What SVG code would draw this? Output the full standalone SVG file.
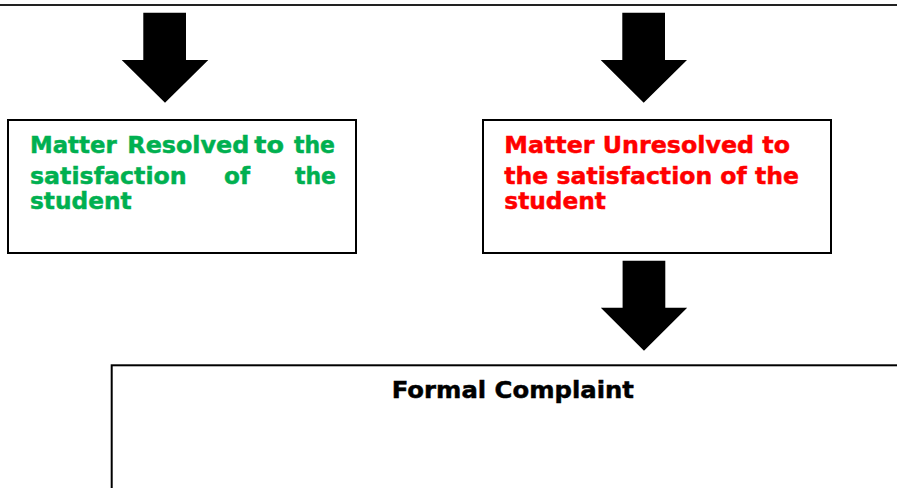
<svg xmlns="http://www.w3.org/2000/svg" width="897" height="488" viewBox="0 0 897 488">
<style>
.box{fill:#fff;stroke:#000;stroke-width:2}
.t{font-family:"DejaVu Sans","Verdana",sans-serif;font-weight:bold;font-size:22.5px;stroke-width:0.45}
.g{fill:#00B050;stroke:#00B050}
.r{fill:#FF0000;stroke:#FF0000}
.k{fill:#000;stroke:#000}
.arrow{fill:#000}
</style>
<rect width="897" height="488" fill="#fff"/>
<line x1="0" y1="5" x2="897" y2="5" stroke="#222" stroke-width="2.2"/>
<g id="connectors">
<polygon class="arrow" points="143.3,12.7 186,12.7 186,60 208.3,60 165,102.7 121.7,60 143.3,60"/>
<polygon class="arrow" points="622.3,12.7 665,12.7 665,60 687,60 643.7,102.7 600.7,60 622.3,60"/>
<polygon class="arrow" points="622.6,260.7 665.3,260.7 665.3,307.7 687.2,307.7 644,350.7 600.8,307.7 622.6,307.7"/>
</g>
<g id="resolved">
<rect class="box" x="8" y="120" width="348" height="133"/>
<g class="t g">
<text x="30" y="153" textLength="86.7" lengthAdjust="spacingAndGlyphs">Matter</text>
<text x="127.3" y="153" textLength="122" lengthAdjust="spacingAndGlyphs">Resolved</text>
<text x="254.3" y="153" textLength="29.7" lengthAdjust="spacingAndGlyphs">to</text>
<text x="294" y="153" textLength="41" lengthAdjust="spacingAndGlyphs">the</text>
<text x="30" y="183.5" textLength="156.7" lengthAdjust="spacingAndGlyphs">satisfaction</text>
<text x="224" y="183.5" textLength="26" lengthAdjust="spacingAndGlyphs">of</text>
<text x="295" y="183.5" textLength="41" lengthAdjust="spacingAndGlyphs">the</text>
<text x="30" y="208.5" textLength="101.7" lengthAdjust="spacingAndGlyphs">student</text>
</g>
</g>
<g id="unresolved">
<rect class="box" x="483" y="120" width="348" height="133"/>
<g class="t r">
<text x="504.3" y="153" textLength="285.7" lengthAdjust="spacingAndGlyphs">Matter Unresolved to</text>
<text x="504.3" y="184" textLength="294.7" lengthAdjust="spacingAndGlyphs">the satisfaction of the</text>
<text x="504.3" y="208.5" textLength="101.7" lengthAdjust="spacingAndGlyphs">student</text>
</g>
</g>
<g id="formal">
<rect class="box" x="111.7" y="365.3" width="800" height="200"/>
<text class="t k" x="391.7" y="398" textLength="242.3" lengthAdjust="spacingAndGlyphs">Formal Complaint</text>
</g>
</svg>
